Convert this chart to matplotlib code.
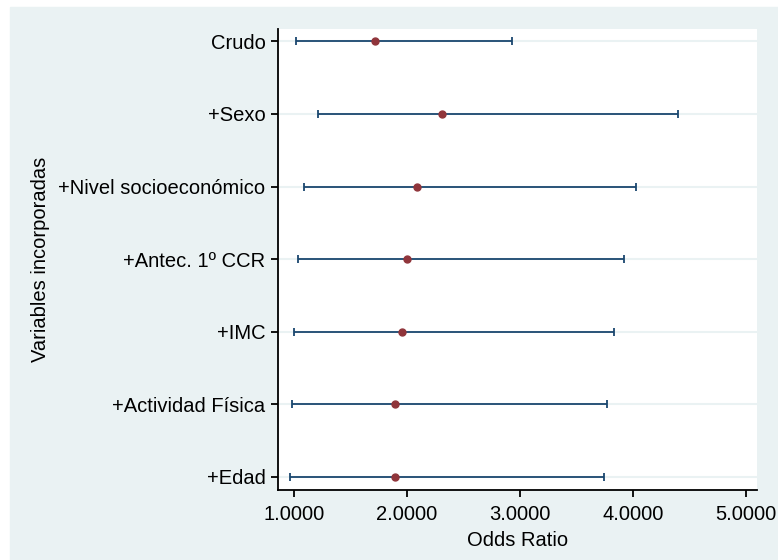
import matplotlib.pyplot as plt
from matplotlib.patches import Rectangle
from matplotlib.ticker import FormatStrFormatter

variables = ["Crudo", "+Sexo", "+Nivel socioeconómico", "+Antec. 1º CCR",
             "+IMC", "+Actividad Física", "+Edad"]
odds_ratio = [1.717, 2.31, 2.09, 2.00, 1.955, 1.89, 1.89]
ci_low = [1.018, 1.21, 1.09, 1.035, 1.00, 0.98, 0.965]
ci_high = [2.93, 4.40, 4.03, 3.92, 3.83, 3.77, 3.74]
x_ticks = [1, 2, 3, 4, 5]

bg = "#EAF2F3"
navy = "#1A476F"
maroon = "#90353B"
fs = 14.5

plt.rcParams["font.family"] = ["Liberation Sans", "DejaVu Sans"]

W, H = 778, 560
fig = plt.figure(figsize=(W / 100, H / 100), dpi=100, facecolor="white")
# Stata-like graph region, leaving a thin white margin on top and left
fig.patches.append(Rectangle((10 / W, 0), 1 - 10 / W, 1 - 7 / H,
                             transform=fig.transFigure, color=bg, zorder=-10))

ax = fig.add_axes([278 / W, 1 - 490 / H, (757 - 278) / W, (490 - 29) / H])
ax.set_facecolor("white")

ypos = list(range(len(variables)))
for y in ypos:
    ax.axhline(y, color=bg, lw=1.5, zorder=1)

err = [[o - l for o, l in zip(odds_ratio, ci_low)],
       [h - o for o, h in zip(odds_ratio, ci_high)]]
ax.errorbar(odds_ratio, ypos, xerr=err, fmt="none", ecolor=navy,
            elinewidth=1.3, capsize=3, capthick=1.3, zorder=2)
ax.plot(odds_ratio, ypos, "o", color=maroon, markersize=5, zorder=3)

ax.set_xlim(0.858, 5.097)
ax.set_ylim(6.18, -0.17)
ax.set_xticks(x_ticks)
ax.xaxis.set_major_formatter(FormatStrFormatter("%.4f"))
ax.set_yticks(ypos)
ax.set_yticklabels(variables)

for side in ["top", "right"]:
    ax.spines[side].set_visible(False)
for side in ["left", "bottom"]:
    ax.spines[side].set_linewidth(1.3)
ax.tick_params(axis="both", direction="out", length=5, width=1.3,
               labelsize=fs, pad=4, colors="black")
ax.tick_params(axis="x", pad=6)

ax.set_xlabel("Odds Ratio", fontsize=fs, labelpad=5)
ax.set_ylabel("Variables incorporadas", fontsize=fs)
ax.yaxis.set_label_coords(-0.475, 0.5)

fig.savefig("out.png", dpi=100, facecolor="white")
